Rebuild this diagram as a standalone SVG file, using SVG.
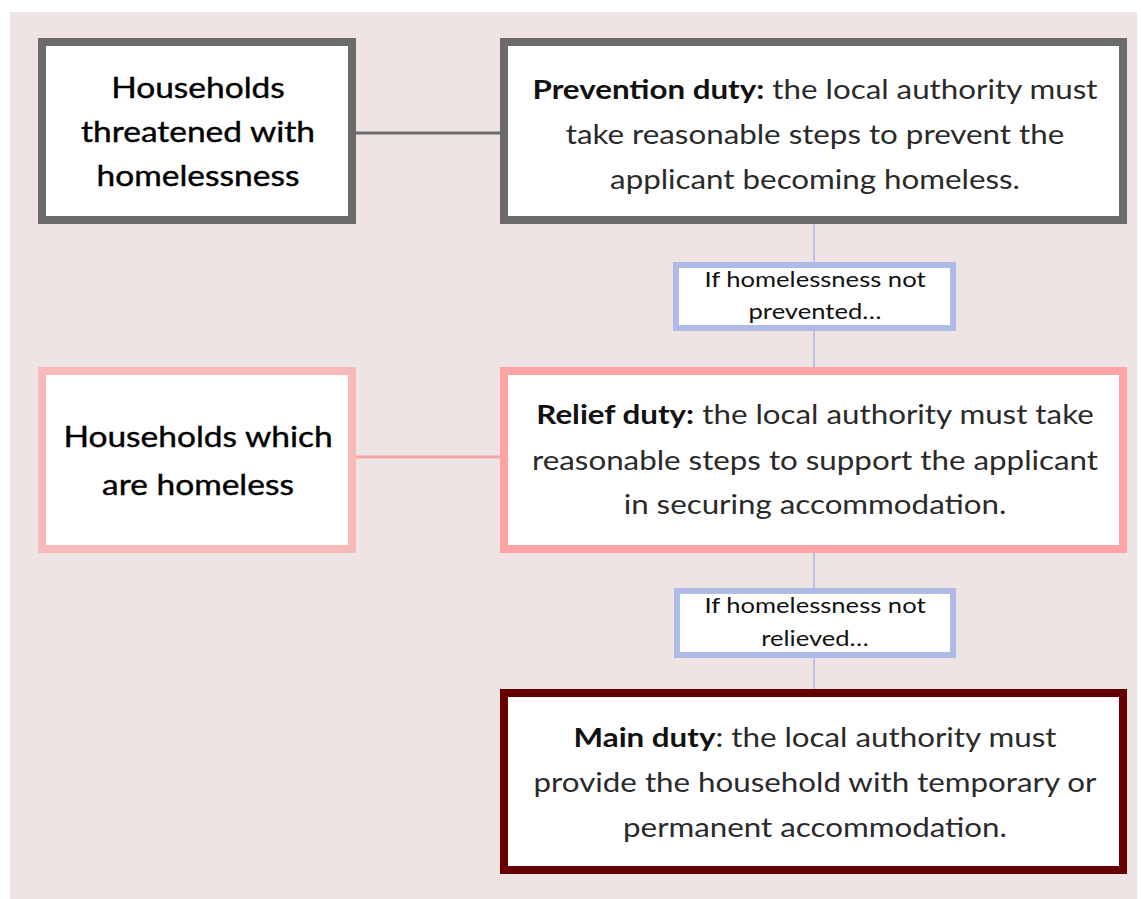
<svg xmlns="http://www.w3.org/2000/svg" width="1141" height="899" viewBox="0 0 1141 899">
<style>
.box{fill:#ffffff;stroke-width:8}
.lbl{fill:#ffffff;stroke:#b0bae6;stroke-width:6}
.t{font-family:Lato,"Liberation Sans",sans-serif;text-anchor:middle}
.big{font-size:29px;fill:#000;stroke:#000;stroke-width:0.4}
.body{font-size:27px;fill:#2a2a2a}
.small{font-size:21px;fill:#111}
.b{font-weight:bold;fill:#111}
</style>
<rect x="0" y="0" width="1141" height="899" fill="#ffffff"/>
<rect x="10" y="12" width="1127" height="887" fill="#efe4e4"/>
<g id="connectors">
<line x1="356" y1="133" x2="500" y2="133" stroke="#6b6b6b" stroke-width="3"/>
<line x1="356" y1="457" x2="500" y2="457" stroke="#f7a6a6" stroke-width="3"/>
<line x1="814" y1="224" x2="814" y2="262" stroke="#aab4e4" stroke-width="1.5"/>
<line x1="814" y1="331" x2="814" y2="367" stroke="#aab4e4" stroke-width="1.5"/>
<line x1="814" y1="553" x2="814" y2="588" stroke="#aab4e4" stroke-width="1.5"/>
<line x1="814" y1="658" x2="814" y2="689" stroke="#aab4e4" stroke-width="1.5"/>
</g>
<g id="threatened">
<rect class="box" x="42" y="42" width="310" height="178" stroke="#6b6b6b"/>
<g transform="translate(198 0) scale(1.155 1)">
<text class="t big" x="0" y="98">Households</text>
<text class="t big" x="0" y="142">threatened with</text>
<text class="t big" x="0" y="186">homelessness</text>
</g>
</g>
<g id="prevention">
<rect class="box" x="504" y="42" width="619" height="178" stroke="#6b6b6b"/>
<g transform="translate(815 0) scale(1.16 1)">
<text class="t body" x="0" y="99"><tspan class="b">Prevention duty:</tspan> the local authority must</text>
<text class="t body" x="0" y="144">take reasonable steps to prevent the</text>
<text class="t body" x="0" y="189">applicant becoming homeless.</text>
</g>
</g>
<g id="label-prevented">
<rect class="lbl" x="676" y="265" width="277" height="63"/>
<g transform="translate(815 0) scale(1.22 1)">
<text class="t small" x="0" y="287">If homelessness not</text>
<text class="t small" x="0" y="319">prevented…</text>
</g>
</g>
<g id="homeless">
<rect class="box" x="42" y="371" width="310" height="178" stroke="#f6baba"/>
<g transform="translate(198 0) scale(1.155 1)">
<text class="t big" x="0" y="447">Households which</text>
<text class="t big" x="0" y="495">are homeless</text>
</g>
</g>
<g id="relief">
<rect class="box" x="504" y="371" width="619" height="178" stroke="#ffa4a4"/>
<g transform="translate(815 0) scale(1.16 1)">
<text class="t body" x="0" y="424"><tspan class="b">Relief duty:</tspan> the local authority must take</text>
<text class="t body" x="0" y="470">reasonable steps to support the applicant</text>
<text class="t body" x="0" y="514">in securing accommodation.</text>
</g>
</g>
<g id="label-relieved">
<rect class="lbl" x="677" y="591" width="276" height="64"/>
<g transform="translate(815 0) scale(1.22 1)">
<text class="t small" x="0" y="613">If homelessness not</text>
<text class="t small" x="0" y="646">relieved…</text>
</g>
</g>
<g id="main">
<rect class="box" x="504" y="693" width="619" height="177" stroke="#660000"/>
<g transform="translate(815 0) scale(1.16 1)">
<text class="t body" x="0" y="747"><tspan class="b">Main duty</tspan>: the local authority must</text>
<text class="t body" x="0" y="792">provide the household with temporary or</text>
<text class="t body" x="0" y="837">permanent accommodation.</text>
</g>
</g>
</svg>
